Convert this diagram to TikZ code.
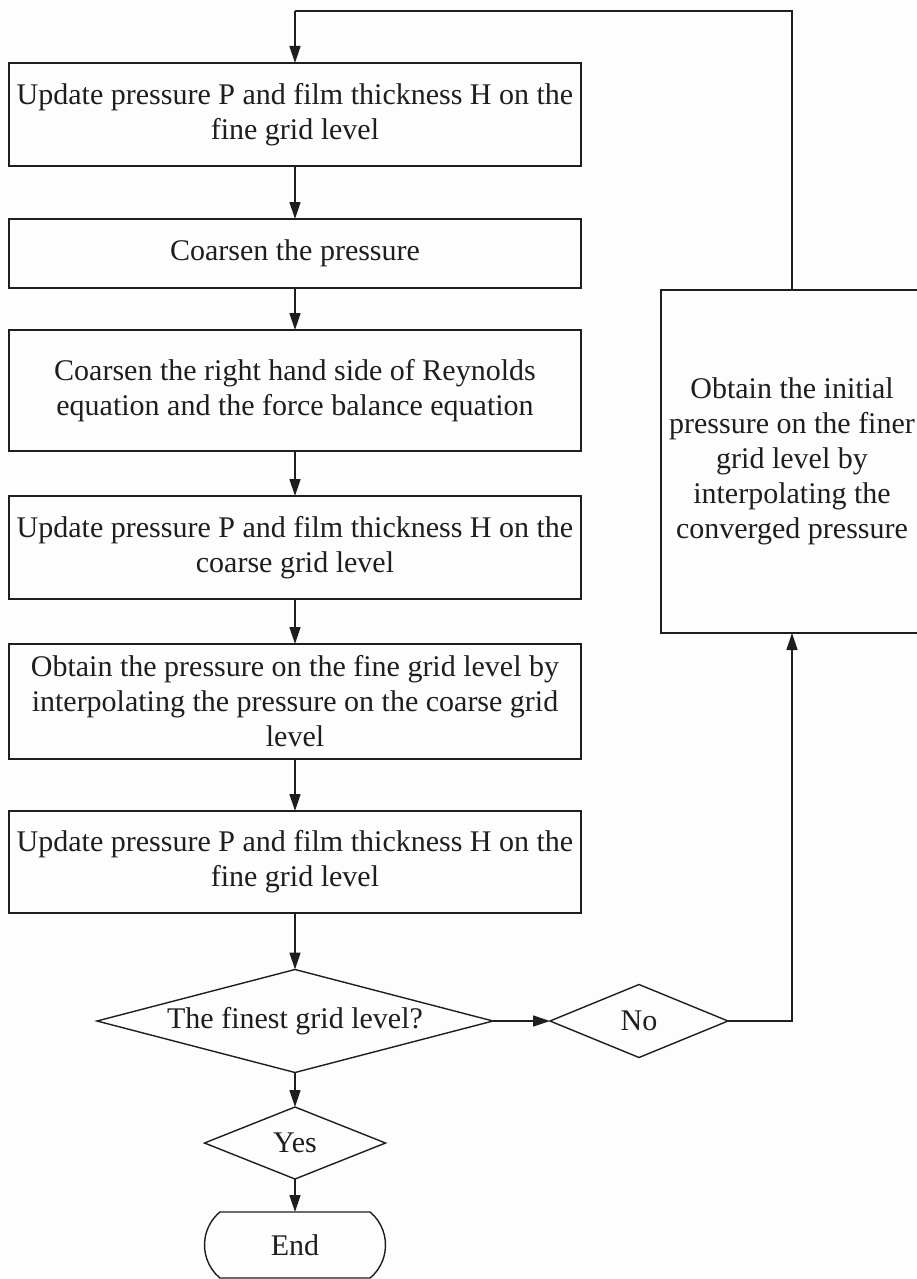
\documentclass[tikz,border=0pt]{standalone}
\usepackage{fontspec}
\setmainfont{Liberation Serif}
\usetikzlibrary{arrows.meta,shapes.geometric,shapes.misc}
\definecolor{ink}{RGB}{30,30,30}
\definecolor{paper}{RGB}{253,253,253}
\begin{document}
\begin{tikzpicture}[x=1pt,y=-1pt,
  every node/.style={font=\fontsize{30}{35}\selectfont, text=ink, inner sep=0pt, outer sep=0pt},
  stepbox/.style={draw=ink, line width=1.4pt, rectangle, align=center, minimum width=572pt},
  decision/.style={draw=ink, line width=1.4pt, diamond, aspect=3.5},
  terminal/.style={draw=ink, line width=1.4pt, rounded rectangle, rounded rectangle arc length=100, minimum width=181pt, minimum height=66pt},
  conn/.style={draw=ink, line width=1.4pt},
  arr/.style={conn, -{Triangle[length=17pt,width=11pt]}}]
\fill[paper] (0,0) rectangle (917,1279);
\useasboundingbox (0,0) rectangle (917,1279);

\node[stepbox, minimum height=103pt] (b1) at (295,114.5) {Update pressure P and film thickness H on the\\fine grid level};
\node[stepbox, minimum height=69pt] (b2) at (295,253.5) {Coarsen the pressure};
\node[stepbox, minimum height=121pt] (b3) at (295,390.5) {Coarsen the right hand side of Reynolds\\equation and the force balance equation};
\node[stepbox, minimum height=103pt] (b4) at (295,547.5) {Update pressure P and film thickness H on the\\coarse grid level};
\node[stepbox, minimum height=115pt] (b5) at (295,701.5) {Obtain the pressure on the fine grid level by\\interpolating the pressure on the coarse grid\\level};
\node[stepbox, minimum height=102pt] (b6) at (295,862) {Update pressure P and film thickness H on the\\fine grid level};

\node[decision, minimum width=396pt, minimum height=103pt] (d1) at (295,1021) {The finest grid level?};
\node[decision, minimum width=178pt, minimum height=73pt] (no) at (639,1021) {No};
\node[decision, minimum width=181pt, minimum height=72pt] (yes) at (295,1143) {Yes};
\node[terminal] (end) at (295,1245) {End};

\node[stepbox, minimum width=262pt, minimum height=343pt] (rb) at (792,461.5) {Obtain the initial\\pressure on the finer\\grid level by\\interpolating the\\converged pressure};

\coordinate (tl) at (295,11);

\draw[arr] (b1) -- (b2);
\draw[arr] (b2) -- (b3);
\draw[arr] (b3) -- (b4);
\draw[arr] (b4) -- (b5);
\draw[arr] (b5) -- (b6);
\draw[arr] (b6) -- (d1);
\draw[arr] (d1.east) -- (no.west);
\draw[arr] (no.east) -| (rb.south);
\draw[arr] (d1.south) -- (yes.north);
\draw[arr] (yes.south) -- (end.north);
\draw[conn] (rb.north) |- (tl);
\draw[arr] (tl) -- (b1.north);
\end{tikzpicture}
\end{document}
